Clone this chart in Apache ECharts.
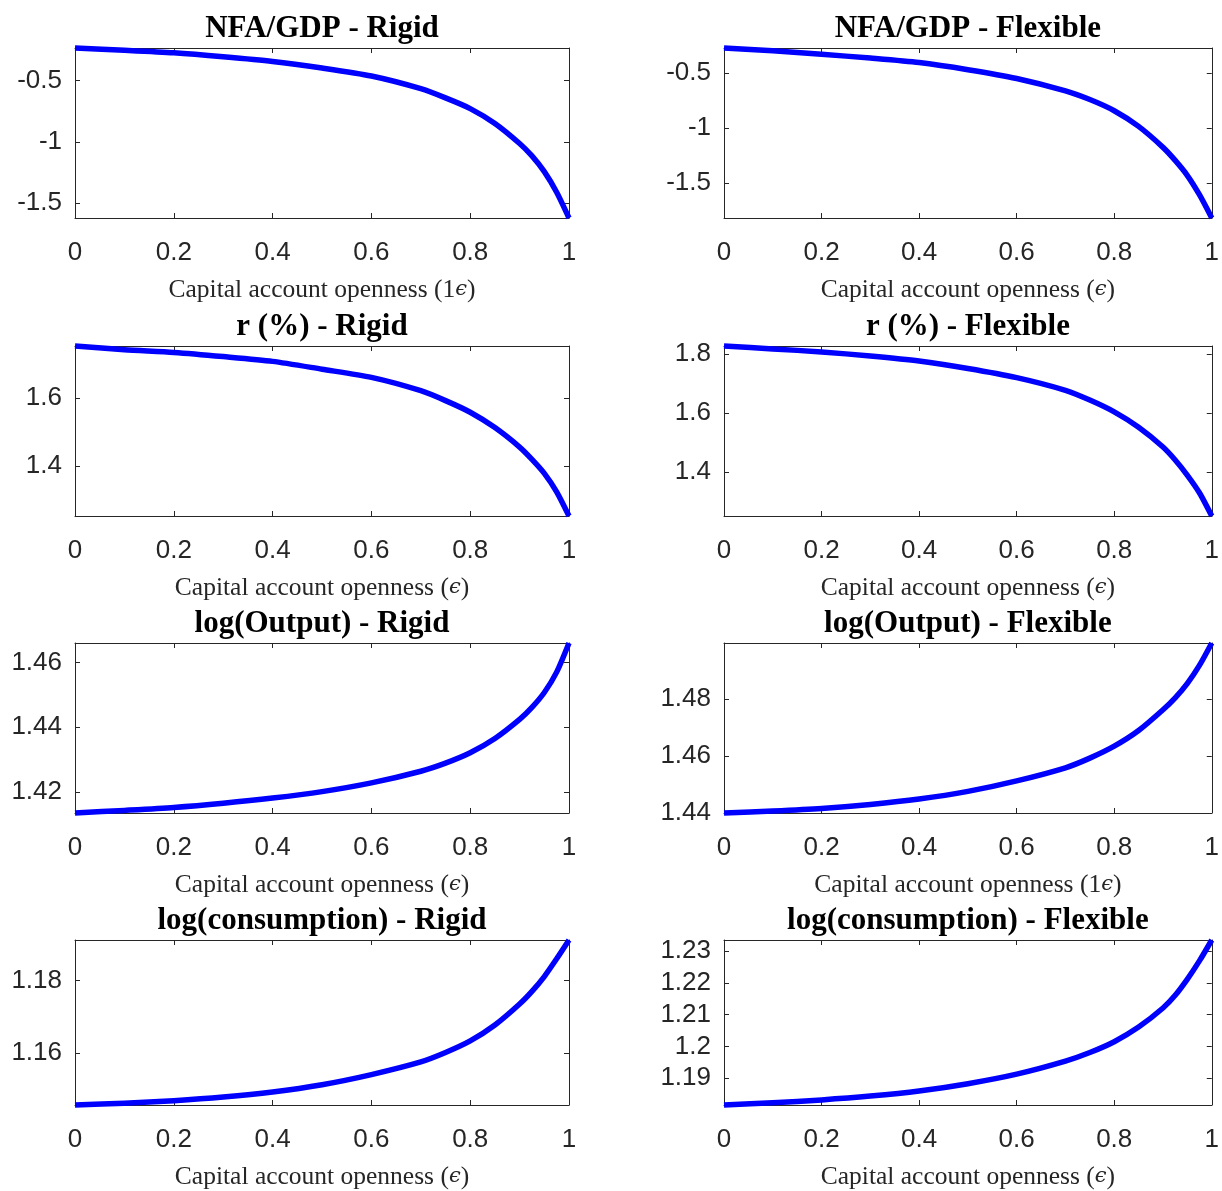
<!DOCTYPE html>
<html>
<head>
<meta charset="utf-8">
<script src="https://cdn.jsdelivr.net/npm/echarts@6/dist/echarts.min.js"></script>
<style>
  html, body { margin: 0; padding: 0; background: #ffffff; }
  #chart { width: 1222px; height: 1191px; }
</style>
</head>
<body>
<div id="chart"></div>
<script>
// Capital account openness grid (x values shared by every panel)
const openness = [0, 0.1, 0.2, 0.3, 0.4, 0.5, 0.6, 0.7, 0.75, 0.8, 0.85, 0.9, 0.925, 0.95, 0.975, 1];

// Net foreign assets over GDP
const nfaRigid    = [-0.237, -0.255, -0.276, -0.308, -0.346, -0.400, -0.465, -0.568, -0.643, -0.730, -0.851, -1.014, -1.115, -1.243, -1.410, -1.620];
const nfaFlexible = [-0.270, -0.296, -0.327, -0.362, -0.403, -0.468, -0.548, -0.661, -0.740, -0.842, -0.985, -1.176, -1.295, -1.433, -1.610, -1.820];

// Interest rate, percent
const rateRigid    = [1.752, 1.741, 1.733, 1.721, 1.707, 1.684, 1.660, 1.621, 1.592, 1.558, 1.513, 1.456, 1.420, 1.379, 1.325, 1.254];
const rateFlexible = [1.828, 1.818, 1.808, 1.794, 1.777, 1.752, 1.721, 1.678, 1.645, 1.605, 1.553, 1.486, 1.442, 1.390, 1.330, 1.252];

// log(Output)
const outputRigid    = [1.4135, 1.4143, 1.4152, 1.4165, 1.4181, 1.4201, 1.4228, 1.4264, 1.4289, 1.4321, 1.4365, 1.4424, 1.4461, 1.4507, 1.4570, 1.4660];
const outputFlexible = [1.4400, 1.4407, 1.4416, 1.4430, 1.4449, 1.4476, 1.4513, 1.4559, 1.4593, 1.4635, 1.4690, 1.4763, 1.4805, 1.4856, 1.4920, 1.4998];

// log(consumption)
const consRigid    = [1.1456, 1.1461, 1.1468, 1.1478, 1.1492, 1.1512, 1.1540, 1.1575, 1.1601, 1.1633, 1.1677, 1.1735, 1.1770, 1.1811, 1.1860, 1.1912];
const consFlexible = [1.1816, 1.1823, 1.1832, 1.1844, 1.1860, 1.1883, 1.1913, 1.1954, 1.1981, 1.2015, 1.2061, 1.2121, 1.2161, 1.2212, 1.2270, 1.2335];

// Tick labels
const xTicks = [0, 0.2, 0.4, 0.6, 0.8, 1];
const nfaTicks = [-1.5, -1, -0.5];
const rateRigidTicks = [1.4, 1.6];
const rateFlexibleTicks = [1.4, 1.6, 1.8];
const outputRigidTicks = [1.42, 1.44, 1.46];
const outputFlexibleTicks = [1.44, 1.46, 1.48];
const consRigidTicks = [1.16, 1.18];
const consFlexibleTicks = [1.19, 1.2, 1.21, 1.22, 1.23];

// Panel titles and x-axis captions
const titles = [
  'NFA/GDP - Rigid', 'NFA/GDP - Flexible',
  'r (%) - Rigid', 'r (%) - Flexible',
  'log(Output) - Rigid', 'log(Output) - Flexible',
  'log(consumption) - Rigid', 'log(consumption) - Flexible'
];
const xCaptions = ['(1{e|ϵ})', '({e|ϵ})', '({e|ϵ})', '({e|ϵ})', '({e|ϵ})', '(1{e|ϵ})', '({e|ϵ})', '({e|ϵ})'];

const panelData = [nfaRigid, nfaFlexible, rateRigid, rateFlexible, outputRigid, outputFlexible, consRigid, consFlexible];
const panelTicks = [nfaTicks, nfaTicks, rateRigidTicks, rateFlexibleTicks, outputRigidTicks, outputFlexibleTicks, consRigidTicks, consFlexibleTicks];

// Layout of the 4x2 subplot grid
const colLeft = [75, 724];
const colWidth = [494, 493];
const rowTop = [48, 346, 643, 940];
const rowHeight = 170;

const AXIS_COLOR = '#262626';
const fmt = v => String(+(+v).toFixed(4));

const grids = [], xAxes = [], yAxes = [], series = [];

panelData.forEach((vals, i) => {
  const col = i % 2, row = Math.floor(i / 2);
  grids.push({ left: colLeft[col], top: rowTop[row], width: colWidth[col], height: rowHeight, containLabel: false });

  // tight limits: the box spans exactly the range of the curve
  const yMin = Math.min(...vals), yMax = Math.max(...vals);
  const tickStyle = { show: true, inside: true, length: 5, lineStyle: { color: AXIS_COLOR, width: 1 } };
  const lineStyle = { show: true, onZero: false, lineStyle: { color: AXIS_COLOR, width: 1 } };

  // bottom x axis with caption
  xAxes.push({
    type: 'value', gridIndex: i, position: 'bottom', min: 0, max: 1, interval: 0.2,
    axisLine: lineStyle,
    axisTick: Object.assign({}, tickStyle, { customValues: xTicks }),
    splitLine: { show: false },
    axisLabel: { show: true, margin: 22, color: AXIS_COLOR, fontFamily: 'Liberation Sans', fontSize: 26, customValues: xTicks, formatter: fmt },
    name: 'Capital account openness ' + xCaptions[i],
    nameLocation: 'middle', nameGap: 59,
    nameTextStyle: {
      fontFamily: 'Liberation Serif', fontSize: 25.5, color: AXIS_COLOR,
      rich: { e: { fontFamily: 'DejaVu Serif', fontStyle: 'italic', fontSize: 21, color: AXIS_COLOR } }
    }
  });
  // top x axis carrying the panel title
  xAxes.push({
    type: 'value', gridIndex: i, position: 'top', min: 0, max: 1, interval: 0.2,
    axisLine: lineStyle,
    axisTick: Object.assign({}, tickStyle, { customValues: xTicks }),
    splitLine: { show: false },
    axisLabel: { show: false },
    name: titles[i], nameLocation: 'middle', nameGap: 4,
    nameTextStyle: { fontFamily: 'Liberation Serif', fontWeight: 'bold', fontSize: 31, color: '#000000' }
  });
  // left y axis with labels
  yAxes.push({
    type: 'value', gridIndex: i, position: 'left', min: yMin, max: yMax,
    axisLine: lineStyle,
    axisTick: Object.assign({}, tickStyle, { customValues: panelTicks[i] }),
    splitLine: { show: false },
    axisLabel: { show: true, margin: 13, color: AXIS_COLOR, fontFamily: 'Liberation Sans', fontSize: 26, customValues: panelTicks[i], formatter: fmt }
  });
  // right y axis, ticks only
  yAxes.push({
    type: 'value', gridIndex: i, position: 'right', min: yMin, max: yMax,
    axisLine: lineStyle,
    axisTick: Object.assign({}, tickStyle, { customValues: panelTicks[i] }),
    splitLine: { show: false },
    axisLabel: { show: false }
  });

  series.push({
    type: 'line', xAxisIndex: 2 * i, yAxisIndex: 2 * i,
    data: openness.map((x, k) => [x, vals[k]]),
    showSymbol: false, smooth: 0.25, clip: false,
    lineStyle: { color: '#0000ff', width: 5.5, join: 'round' },
    animation: false
  });
});

const chart = echarts.init(document.getElementById('chart'), null, { renderer: 'canvas' });
chart.setOption({
  backgroundColor: '#ffffff',
  animation: false,
  grid: grids,
  xAxis: xAxes,
  yAxis: yAxes,
  series: series
});
</script>
</body>
</html>
